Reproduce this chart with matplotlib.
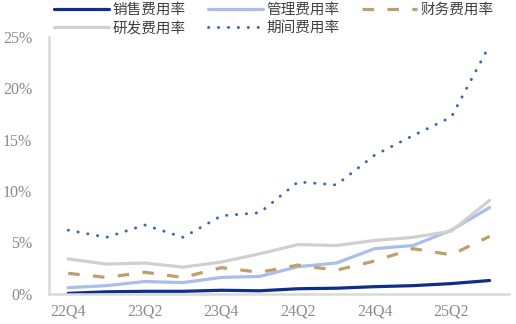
import matplotlib
matplotlib.use("Agg")
import matplotlib.pyplot as plt
from matplotlib.ticker import FuncFormatter

quarters = ["22Q4", "23Q1", "23Q2", "23Q3", "23Q4", "24Q1", "24Q2", "24Q3", "24Q4", "25Q1", "25Q2", "25Q3"]
sales = [0.05, 0.2, 0.25, 0.25, 0.35, 0.3, 0.5, 0.55, 0.7, 0.8, 1.0, 1.3]
admin = [0.6, 0.8, 1.2, 1.1, 1.6, 1.7, 2.65, 3.0, 4.4, 4.7, 6.2, 8.4]
finance = [2.0, 1.6, 2.1, 1.6, 2.55, 2.1, 2.8, 2.3, 3.2, 4.4, 3.8, 5.6]
rnd = [3.4, 2.9, 3.0, 2.6, 3.1, 3.9, 4.8, 4.7, 5.2, 5.5, 6.1, 9.1]
period = [6.2, 5.5, 6.7, 5.5, 7.6, 7.9, 10.9, 10.6, 13.5, 15.4, 17.2, 24.2]
labels = ["销售费用率", "管理费用率", "财务费用率", "研发费用率", "期间费用率"]

plt.rcParams['font.family'] = ['Noto Sans CJK SC', 'DejaVu Sans']

fig = plt.figure(figsize=(5.16, 3.24), dpi=100)
ax = fig.add_axes([0.095, 0.093, 0.891, 0.793])
x = list(range(len(quarters)))
lw = 2.3
h0, = ax.plot(x, sales, color="#0D2F8A", lw=lw, label=labels[0], solid_capstyle='round')
h1, = ax.plot(x, admin, color="#A9BFE9", lw=lw, label=labels[1], solid_capstyle='round')
h2, = ax.plot(x, finance, color="#BF9F6A", lw=lw, dashes=(3.6, 4.2), label=labels[2])
h3, = ax.plot(x, rnd, color="#D0D0D0", lw=lw, label=labels[3], solid_capstyle='round')
h4, = ax.plot(x, period, color="#3B66B6", lw=2.1, linestyle=(0, (0.1, 3.3)), dash_capstyle='round', label=labels[4])

ax.set_xlim(-0.5, 11.5)
ax.set_ylim(0, 25)
ax.set_yticks([0, 5, 10, 15, 20, 25])
ax.yaxis.set_major_formatter(FuncFormatter(lambda v, p: f"{int(v)}%"))
ax.set_xticks(x[::2])
ax.set_xticklabels(quarters[::2])
for lab in ax.get_xticklabels() + ax.get_yticklabels():
    lab.set_fontfamily(['Liberation Serif'])
    lab.set_fontsize(11.5)
    lab.set_color("#8a8a8a")
ax.tick_params(axis='y', length=0, pad=12)
ax.tick_params(axis='x', length=0, pad=7)
for s in ['top', 'right']:
    ax.spines[s].set_visible(False)
for s in ['left', 'bottom']:
    ax.spines[s].set_color("#D9D9D9")
    ax.spines[s].set_linewidth(1.8)

handles = [h0, h3, h1, h4, h2]
leg = fig.legend(handles=handles, labels=[h.get_label() for h in handles],
                 loc='upper left', bbox_to_anchor=(0.08, 1.03), ncol=3, frameon=False,
                 fontsize=10.5, handlelength=3.8, handletextpad=0.25, columnspacing=1.5,
                 labelspacing=0.3, borderpad=0.35)
for t in leg.get_texts():
    t.set_color("#404040")

fig.savefig("out.png", dpi=100)
